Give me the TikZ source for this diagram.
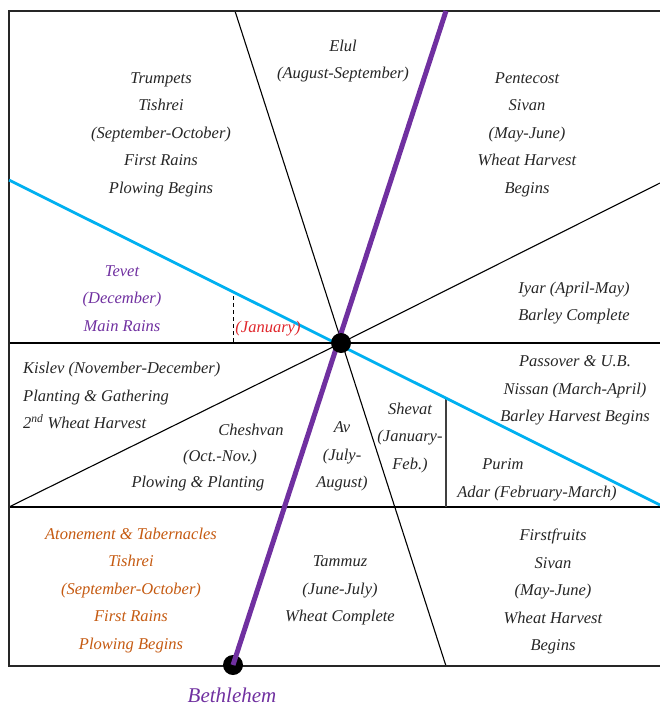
\documentclass[tikz,border=0pt]{standalone}
\usepackage{fontspec}
\setmainfont{Liberation Serif}
\definecolor{pline}{HTML}{7030A0}
\definecolor{bline}{HTML}{00B0F0}
\definecolor{otext}{HTML}{C55A11}
\definecolor{rtext}{HTML}{E0262B}
\tikzset{
  border/.style={line width=2.5pt, draw=black!85},
  thin/.style={line width=1.1pt, draw=black},
  lbl/.style={font=\fontsize{16.5pt}{27.5pt}\selectfont\itshape, align=center, inner sep=0pt, text=black!85, yshift=-1.5pt},
  dot/.style={circle, fill=black, minimum size=20pt, inner sep=0pt},
}
\begin{document}
\begin{tikzpicture}[x=1pt,y=-1pt]
\useasboundingbox (0,0) rectangle (660,709);
% frame coordinates
\coordinate (tl) at (9,11);
\coordinate (tr) at (660,11);
\coordinate (bl) at (9,666);
\coordinate (br) at (660,666);
\coordinate (ml) at (9,343);
\coordinate (mr) at (660,343);
\coordinate (ll) at (9,507);
\coordinate (lr) at (660,507);
\coordinate (c) at (341,343);
\coordinate (ttop) at (235,11);
\coordinate (tbot) at (446,666);
\coordinate (ptop) at (446,11);
\coordinate (ur) at (660,183);
\coordinate (bluel) at (9,180);
\coordinate (bluer) at (660,505);
\coordinate (dtop) at (233,296);
\coordinate (dbot) at (233,343);
\coordinate (vtop) at (446,398);
\coordinate (vbot) at (446,507);
% inner lines
\draw[thin] (ml) -- (mr);
\draw[thin] (ll) -- (lr);
\draw[thin] (ttop) -- (tbot);
\draw[thin] (c) -- (ur);
\draw[thin] (c) -- (ll);
\draw[line width=0.9pt, dash pattern=on 4pt off 3pt] (dtop) -- (dbot);
\draw[line width=1.5pt, draw=black!75] (vtop) -- (vbot);
% frame
\draw[border] (tr) -- (tl) -- (bl) -- (br);
% blue line
\draw[line width=2.8pt, bline] (bluel) -- (bluer);
% purple line
\node[dot] (beth) at (233,665) {};
\draw[line width=5pt, pline] (beth.center) -- (ptop);
\node[dot] (center) at (c) {};
% labels
\node[lbl] (elul) at (343,59.5) {Elul\\(August-September)};
\node[lbl] (trumpets) at (161,133) {Trumpets\\Tishrei\\(September-October)\\First Rains\\Plowing Begins};
\node[lbl] (pentecost) at (527,133) {Pentecost\\Sivan\\(May-June)\\Wheat Harvest\\Begins};
\node[lbl, text=pline] (tevet) at (122,297) {Tevet\\(December)\\Main Rains};
\node[lbl, text=rtext] (january) at (268,327) {(January)};
\node[lbl] (iyar) at (574,301.5) {Iyar (April-May)\\Barley Complete};
\node[lbl, align=left, anchor=west] (kislev) at (23,394) {Kislev (November-December)\\Planting \& Gathering\\2\textsuperscript{nd} Wheat Harvest};
\node[lbl] (cheshA) at (251,428) {Cheshvan};
\node[lbl] (cheshB) at (220,456) {(Oct.-Nov.)};
\node[lbl] (cheshC) at (198,482) {Plowing \& Planting};
\node[lbl] (av) at (342,455) {Av\\(July-\\August)};
\node[lbl] (shevat) at (410,436.5) {Shevat\\(January-\\Feb.)};
\node[lbl] (passover) at (575,389) {Passover \& U.B.\\Nissan (March-April)\\Barley Harvest Begins};
\node[lbl] (purim) at (503,463) {Purim};
\node[lbl] (adar) at (537,492) {Adar (February-March)};
\node[lbl, text=otext] (atonement) at (131,589) {Atonement \& Tabernacles\\Tishrei\\(September-October)\\First Rains\\Plowing Begins};
\node[lbl] (tammuz) at (340,589) {Tammuz\\(June-July)\\Wheat Complete};
\node[lbl] (firstfruits) at (553,590) {Firstfruits\\Sivan\\(May-June)\\Wheat Harvest\\Begins};
\node[font=\fontsize{21pt}{24pt}\selectfont\itshape, text=pline, inner sep=0pt] (bethlabel) at (232,695) {Bethlehem};
\end{tikzpicture}
\end{document}
